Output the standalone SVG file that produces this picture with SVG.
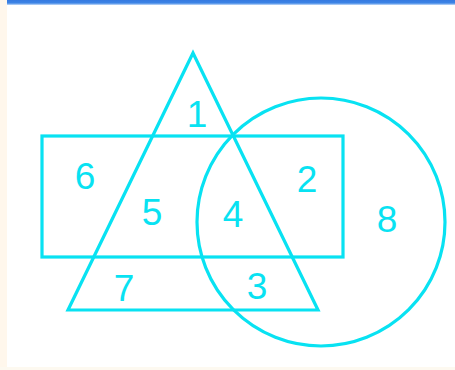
<svg xmlns="http://www.w3.org/2000/svg" width="455" height="370" viewBox="0 0 455 370">
<style>
.s{fill:none;stroke:#08e2f2;stroke-width:3.2}
.t{font-family:"Liberation Sans",Arial,sans-serif;font-size:37px;fill:#08e2f2;text-anchor:middle}
</style>
<defs>
<linearGradient id="bar" x1="0" y1="0" x2="0" y2="1">
<stop offset="0" stop-color="#3579e0"/>
<stop offset="0.6" stop-color="#3d84e6"/>
<stop offset="1" stop-color="#c6dcf8"/>
</linearGradient>
</defs>
<rect width="455" height="370" fill="#ffffff"/>
<rect x="0" y="0" width="7" height="370" fill="#fff7ec"/>
<rect x="0" y="367" width="455" height="3" fill="#fdf9f0"/>
<rect x="7" y="0" width="448" height="5" fill="url(#bar)"/>
<g id="shapes">
<g id="rectangle"><rect class="s" x="42" y="136" width="301" height="121"/></g>
<g id="triangle"><polygon class="s" points="193,53 318,310 68,310"/></g>
<g id="circle"><circle class="s" cx="321" cy="222" r="124"/></g>
</g>
<g id="labels">
<text class="t" x="197" y="127">1</text>
<text class="t" x="307" y="192">2</text>
<text class="t" x="257" y="299">3</text>
<text class="t" x="233" y="227">4</text>
<text class="t" x="152" y="225">5</text>
<text class="t" x="85" y="189">6</text>
<text class="t" x="124" y="301">7</text>
<text class="t" x="387" y="232">8</text>
</g>
</svg>
